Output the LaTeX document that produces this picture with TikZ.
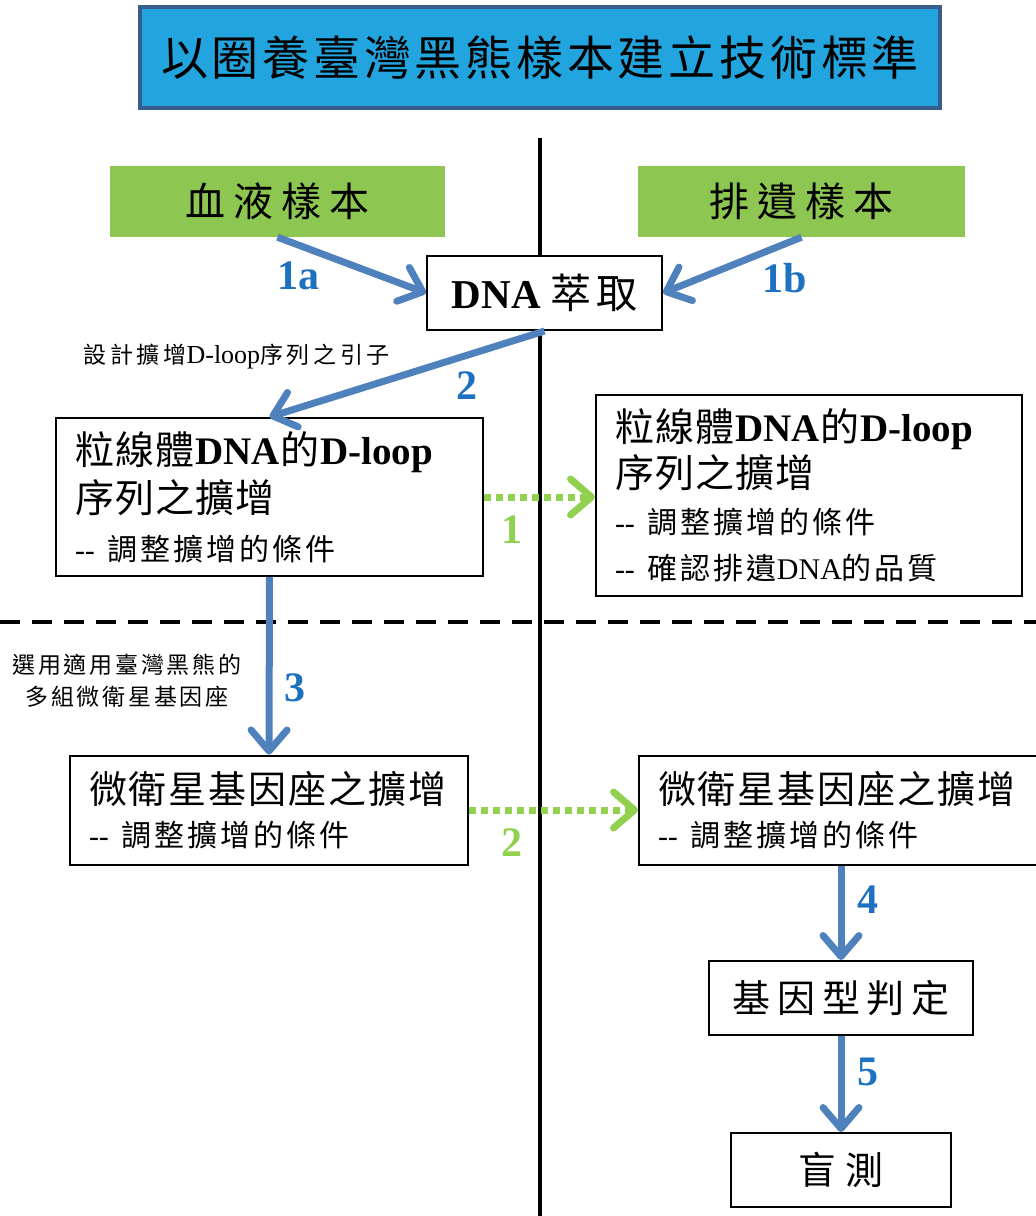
\documentclass[tikz,border=0pt]{standalone}
\usepackage{fontspec}
\usepackage{xcolor}
\usepackage{tikz}
\usetikzlibrary{arrows.meta}
\setmainfont{Liberation Serif}
\newfontfamily\cjk{Noto Sans CJK TC}
\newcommand{\zh}[1]{{\cjk #1}}
\newcommand{\zhs}[2]{{\cjk\addfontfeature{LetterSpace=#1}#2}}
\definecolor{titleblue}{RGB}{34,165,222}
\definecolor{titleedge}{RGB}{56,93,138}
\definecolor{samplegreen}{RGB}{141,198,80}
\definecolor{flowblue}{RGB}{79,129,189}
\definecolor{numblue}{RGB}{30,112,192}
\definecolor{dotgreen}{RGB}{146,208,80}

\begin{document}
\begin{tikzpicture}[x=1pt, y=-1pt,
  box/.style={draw, line width=2pt, fill=white, inner xsep=19pt, inner ysep=0pt},
  sample/.style={fill=samplegreen, minimum height=71pt, font=\fontsize{40}{40}\selectfont},
  flow/.style={draw=flowblue, line width=7pt, -{Straight Barb[length=21pt,width=36pt,round]}},
  trans/.style={draw=dotgreen, line width=7pt, dash pattern=on 7pt off 5pt,
    -{Straight Barb[length=21pt,width=36pt,round]}},
  num/.style={text=numblue, font=\fontsize{42}{42}\selectfont\bfseries},
  note/.style={font=\fontsize{23}{32}\selectfont}]
  \useasboundingbox (0,0) rectangle (1036,1216);
  \draw[line width=4pt] (540,138) -- (540,1216);
  \draw[line width=4pt, dash pattern=on 20pt off 12pt] (0,622) -- (1036,622);

  \node[draw=titleedge, line width=4pt, fill=titleblue, minimum width=800pt, minimum height=101pt,
    font=\fontsize{47}{47}\selectfont] (title) at (540,57.5) {\zhs{8}{以圈養臺灣黑熊樣本建立技術標準}};
  \node[sample, minimum width=335pt] (blood) at (277.5,201.5) {\zhs{20}{血液樣本}};
  \node[sample, minimum width=327pt] (feces) at (801.5,201.5) {\zhs{20}{排遺樣本}};
  \node[box, minimum width=235pt, minimum height=74pt, font=\fontsize{41}{41}\selectfont]
    (dna) at (544.5,293) {\textbf{DNA} \zhs{10}{萃取}};
  \node[box, text width=389pt, minimum height=158pt, align=left, font=\fontsize{39}{48}\selectfont]
    (mitoL) at (269.5,497) {\zhs{3}{粒線體}\textbf{DNA}\zhs{3}{的}\textbf{D-loop}\\
    \zhs{3}{序列之擴增}\\
    {\fontsize{30}{48}\selectfont -{}- \zhs{10}{調整擴增的條件}}};
  \node[box, text width=388pt, minimum height=201pt, align=left, font=\fontsize{39}{46}\selectfont]
    (mitoR) at (809,495) {\zhs{3}{粒線體}\textbf{DNA}\zhs{3}{的}\textbf{D-loop}\\
    \zhs{3}{序列之擴增}\\
    {\fontsize{30}{46}\selectfont -{}- \zhs{10}{調整擴增的條件}}\\
    {\fontsize{30}{46}\selectfont -{}- \zhs{10}{確認排遺}DNA\zhs{10}{的品質}}};
  \node[box, text width=360pt, minimum height=109pt, align=left, font=\fontsize{38}{43}\selectfont]
    (microL) at (269,810) {\zhs{5}{微衛星基因座之擴增}\\
    {\fontsize{30}{43}\selectfont -{}- \zhs{10}{調整擴增的條件}}};
  \node[box, text width=366pt, minimum height=109pt, align=left, font=\fontsize{38}{43}\selectfont]
    (microR) at (841,810) {\zhs{5}{微衛星基因座之擴增}\\
    {\fontsize{30}{43}\selectfont -{}- \zhs{10}{調整擴增的條件}}};
  \node[box, minimum width=264pt, minimum height=74pt, font=\fontsize{38}{38}\selectfont]
    (geno) at (841,998) {\zhs{18}{基因型判定}};
  \node[box, minimum width=220pt, minimum height=74pt, font=\fontsize{38}{38}\selectfont]
    (blind) at (841,1170) {\zhs{25}{盲測}};

  \node[note, anchor=west] (primer) at (80,357)
    {\zhs{16}{設計擴增}{\fontsize{26}{32}\selectfont D-loop}\zhs{16}{序列之引子}};
  \node[note, align=center] (loci) at (127,681) {\zhs{12}{選用適用臺灣黑熊的}\\ \zhs{12}{多組微衛星基因座}};

  \draw[flow] (blood.south) -- (dna.west);
  \draw[flow] (feces.south) -- (dna.east);
  \draw[flow] (dna.south) -- (mitoL.north);
  \draw[flow] (mitoL.south) -- (microL.north);
  \draw[trans] (mitoL.east) -- (mitoL.east -| mitoR.west);
  \draw[trans] (microL.east) -- (microR.west);
  \draw[flow] (microR.south) -- (geno.north);
  \draw[flow] (geno.south) -- (blind.north);

  \node[num] (l1a) at (298,276) {1a};
  \node[num] (l1b) at (785,278) {1b};
  \node[num] (l2) at (467,386) {2};
  \node[num] (l3) at (295,688) {3};
  \node[num] (l4) at (868,900) {4};
  \node[num] (l5) at (868,1072) {5};
  \node[num, text=dotgreen] (g1) at (512,530) {1};
  \node[num, text=dotgreen] (g2) at (512,843) {2};
\end{tikzpicture}
\end{document}
